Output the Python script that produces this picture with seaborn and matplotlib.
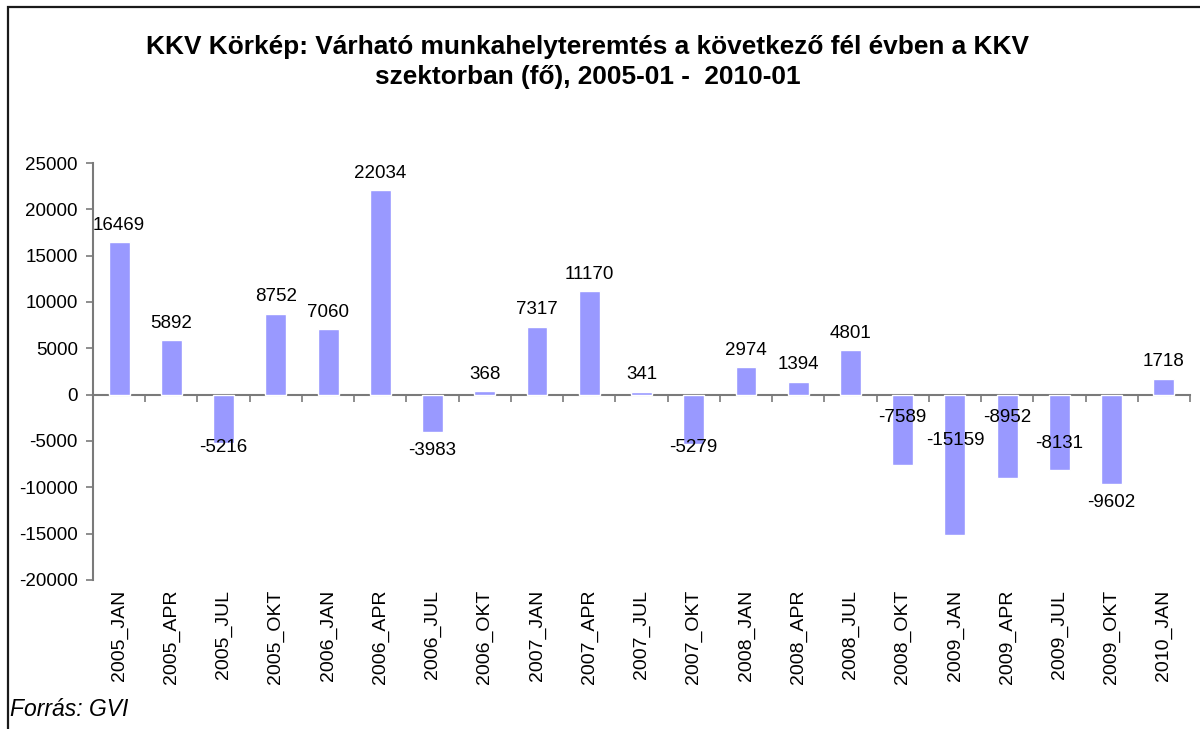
import matplotlib
matplotlib.use("Agg")
import matplotlib.pyplot as plt
from matplotlib.patches import Rectangle
import seaborn as sns
import pandas as pd

# Quarterly survey results: expected job creation in the next six months (persons)
periods = [
    "2005_JAN", "2005_APR", "2005_JUL", "2005_OKT",
    "2006_JAN", "2006_APR", "2006_JUL", "2006_OKT",
    "2007_JAN", "2007_APR", "2007_JUL", "2007_OKT",
    "2008_JAN", "2008_APR", "2008_JUL", "2008_OKT",
    "2009_JAN", "2009_APR", "2009_JUL", "2009_OKT",
    "2010_JAN",
]
jobs = [
    16469, 5892, -5216, 8752,
    7060, 22034, -3983, 368,
    7317, 11170, 341, -5279,
    2974, 1394, 4801, -7589,
    -15159, -8952, -8131, -9602,
    1718,
]
y_ticks = [-20000, -15000, -10000, -5000, 0, 5000, 10000, 15000, 20000, 25000]

# vertical nudge (pixels, downward positive) of each value label from its bar end
label_nudge = [
    -17, -17, 4, -17,
    -17, -17, 19, -17,
    -17, -17, -17, 4,
    -17, -17, -17, -47,
    -95, -60, -27, 19,
    -17,
]

df = pd.DataFrame({"period": periods, "jobs": jobs})

sns.set_theme(style="white")
plt.rcParams["font.family"] = ["Liberation Sans", "DejaVu Sans"]

W, H = 1200, 729
fig = plt.figure(figsize=(W / 100, H / 100), dpi=100)
fig.patch.set_facecolor("white")
ax = fig.add_axes([93 / W, 1 - 580 / H, (1190 - 93) / W, (580 - 163) / H])

sns.barplot(data=df, x="period", y="jobs", order=periods, color="#9999FF",
            saturation=1, width=0.4, ax=ax)

axis_col = "#7a7a7a"
ax.set_xlim(-0.5, len(periods) - 0.5)
ax.set_ylim(-20000, 25000)
ax.set_yticks(y_ticks)
ax.set_yticklabels([str(v) for v in y_ticks], fontsize=13.5, color="black")
ax.tick_params(axis="y", direction="out", length=5, width=1.2, color=axis_col,
               left=True, pad=6)
ax.set_xlabel("")
ax.set_ylabel("")

for side in ("top", "right", "bottom"):
    ax.spines[side].set_visible(False)
ax.spines["left"].set_color(axis_col)
ax.spines["left"].set_linewidth(1.5)

# category labels sit under the plot area, rotated
ax.set_xticks(range(len(periods)))
ax.set_xticklabels(periods, rotation=90, fontsize=14, color="black")
ax.tick_params(axis="x", length=0, pad=7, bottom=True)

# zero line with category separator ticks
zero_pos = (0 - (-20000)) / (25000 - (-20000))
sec = ax.secondary_xaxis(zero_pos)
sec.set_xticks([i + 0.5 for i in range(-1, len(periods))])
sec.set_xticklabels([])
sec.tick_params(axis="x", direction="out", length=5, width=1.2, color=axis_col)
sec.spines["bottom"].set_color(axis_col)
sec.spines["bottom"].set_linewidth(1.5)

# value labels
for i, (v, dy) in enumerate(zip(jobs, label_nudge)):
    ax.annotate(str(v), xy=(i, v), xytext=(0, -dy), textcoords="offset pixels",
                ha="center", va="center", fontsize=13.5, color="black")

fig.text(588 / W, 1 - 62 / H,
         "KKV Körkép: Várható munkahelyteremtés a következő fél évben a KKV\n"
         "szektorban (fő), 2005-01 -  2010-01",
         ha="center", va="center", fontsize=18.9, fontweight="bold",
         linespacing=1.33, color="black")

fig.text(10 / W, 1 - 709 / H, "Forrás: GVI", ha="left", va="center",
         fontsize=16.5, fontstyle="italic", color="black")

# chart area frame
fig.patches.append(Rectangle((8 / W, -0.1), 1.2, 1 - 7 / H + 0.1,
                             transform=fig.transFigure, fill=False,
                             edgecolor="#1a1a1a", linewidth=1.6))

fig.savefig("out.png", dpi=100, facecolor="white")
